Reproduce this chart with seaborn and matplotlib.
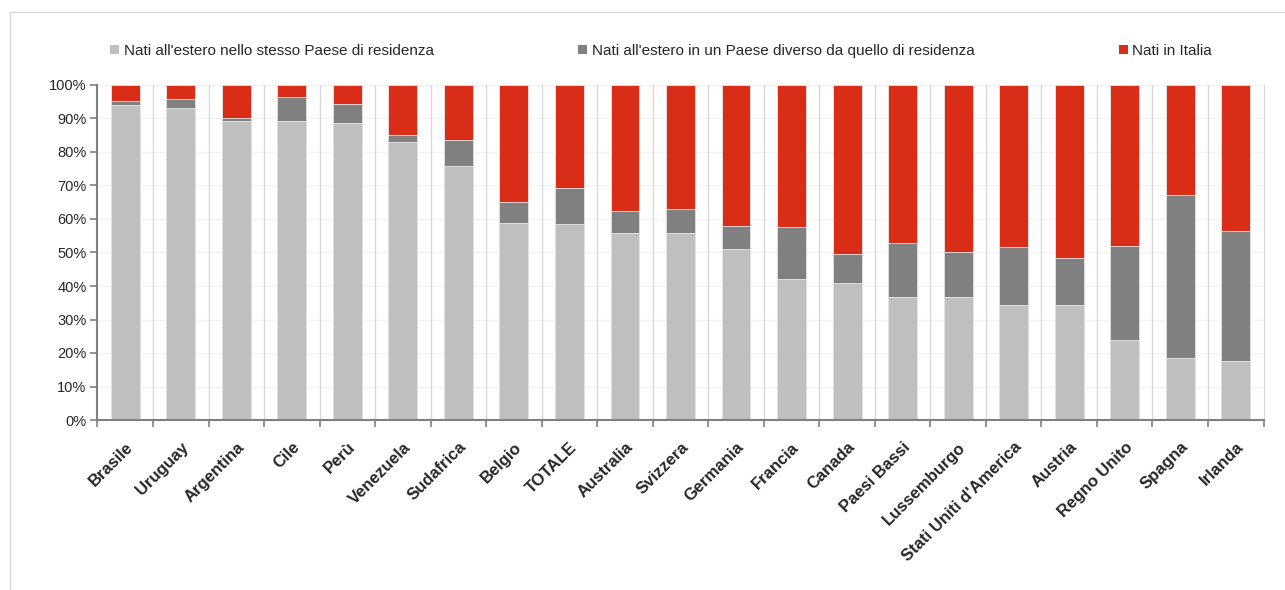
import numpy as np
import pandas as pd
import seaborn as sns
import matplotlib.pyplot as plt
from matplotlib.patches import Patch, Rectangle

paesi = ["Brasile", "Uruguay", "Argentina", "Cile", "Perù", "Venezuela", "Sudafrica",
         "Belgio", "TOTALE", "Australia", "Svizzera", "Germania", "Francia", "Canada",
         "Paesi Bassi", "Lussemburgo", "Stati Uniti d'America", "Austria", "Regno Unito",
         "Spagna", "Irlanda"]
stesso_paese = [94.1, 93.0, 89.4, 89.4, 88.7, 82.9, 75.7, 58.8, 58.4, 55.8, 55.8, 51.0,
                42.0, 41.0, 36.7, 36.6, 34.3, 34.3, 23.9, 18.5, 17.6]
paese_diverso = [1.1, 2.8, 0.7, 7.0, 5.6, 2.2, 7.9, 6.2, 10.9, 6.6, 7.1, 6.9, 15.5, 8.6,
                 16.1, 13.4, 17.3, 14.2, 28.0, 48.6, 38.8]
serie = ["Nati all'estero nello stesso Paese di residenza",
         "Nati all'estero in un Paese diverso da quello di residenza",
         "Nati in Italia"]
colori = ["#BFBFBF", "#808080", "#D92D17"]


def main():
    df = pd.DataFrame({"paese": paesi, "stesso": stesso_paese, "diverso": paese_diverso})
    df["cum2"] = df["stesso"] + df["diverso"]
    df["cum3"] = 100.0

    sns.set_style("white")
    plt.rcParams["font.family"] = ["Liberation Sans", "DejaVu Sans"]
    txt = "#262626"

    fig = plt.figure(figsize=(12.85, 5.9), dpi=100)
    ax = fig.add_axes([97.5 / 1285, 1 - 420 / 590, (1263.5 - 97.5) / 1285, 335 / 590])

    # stacked bars drawn from the top segment down
    for col, c in zip(["cum3", "cum2", "stesso"], colori[::-1]):
        sns.barplot(data=df, x="paese", y=col, color=c, saturation=1, width=0.52, ax=ax,
                    edgecolor="#E6E6E6", linewidth=0.6, zorder=2)

    ax.set_xlim(-0.5, len(paesi) - 0.5)
    ax.set_ylim(0, 100)
    ax.set_yticks(np.arange(0, 101, 10))
    ax.set_yticklabels([f"{v}%" for v in range(0, 101, 10)], fontsize=10.5, color=txt)
    ax.set_xlabel("")
    ax.set_ylabel("")

    ax.set_xticks(np.arange(len(paesi)))
    ax.set_xticklabels(paesi, rotation=45, ha="right", rotation_mode="anchor",
                       fontsize=12, fontweight="bold", color=txt)
    ax.tick_params(axis="x", which="major", length=0, pad=14)
    ax.set_xticks(np.arange(-0.5, len(paesi)), minor=True)
    ax.tick_params(axis="x", which="minor", length=5, width=1.2, color="#808080",
                   direction="out", bottom=True)
    ax.tick_params(axis="y", length=5, width=1.2, color="#808080", direction="out",
                   left=True, pad=3)

    ax.grid(False)
    for xb in np.arange(0.5, len(paesi) - 0.5):
        ax.axvline(xb, color="#D9D9D9", lw=1, zorder=1)
    for yv in range(10, 101, 10):
        ax.axhline(yv, color="#F3F3F3", lw=1, zorder=0)

    ax.spines["top"].set_visible(False)
    ax.spines["right"].set_color("#D9D9D9")
    for s in ["left", "bottom"]:
        ax.spines[s].set_color("#808080")
        ax.spines[s].set_linewidth(1.5)
        ax.spines[s].set_zorder(5)

    handles = [Patch(facecolor=c, edgecolor="none") for c in colori]
    fig.legend(handles, serie, ncol=3, mode="expand", frameon=False,
               bbox_to_anchor=(110 / 1285, 1 - 58 / 590, (1212 - 110) / 1285, 20 / 590),
               loc="lower left", borderaxespad=0, borderpad=0,
               handlelength=0.6, handleheight=0.6, handletextpad=0.3,
               prop={"size": 11}, labelcolor=txt)

    fig.patches.append(Rectangle((10 / 1285, -0.1), 1.2, 1.1 - 12 / 590,
                                 transform=fig.transFigure, fill=False,
                                 edgecolor="#D9D9D9", lw=1))

    fig.savefig("out.png", dpi=100)


if __name__ == "__main__":
    main()
